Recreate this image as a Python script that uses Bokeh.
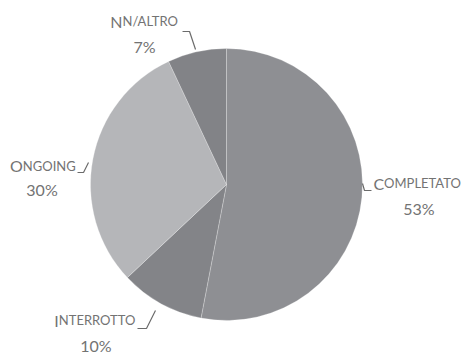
import math
from bokeh.plotting import figure
from bokeh.models import ColumnDataSource, Range1d
from bokeh.core.properties import value
from bokeh.embed import file_html
from bokeh.resources import INLINE

# ---- data ----
categories = ["Completato", "Interrotto", "Ongoing", "Nn/altro"]
percent = [53, 10, 30, 7]
first_letters = ["C", "I", "O", "N"]
rest_letters = ["OMPLETATO", "NTERROTTO", "NGOING", "N/ALTRO"]
pct_labels = ["53%", "10%", "30%", "7%"]
colors = ["#8e8f93", "#838488", "#b5b6b9", "#828387"]

# ---- layout (image pixel coordinates, y downwards) ----
W, H = 465, 354
CX, CY, R = 226, 184, 136
TEXT_COLOR = "#737373"
FONT = "Lato"
TEXT_DY = -7  # baseline correction for text rendering

# offsets relative to the pie edge point at the middle of each slice
LAYOUT = {
    "Completato": dict(leader=[(0.6, -13.8), (2.6, -6.8), (9.6, -6.8)],
                       label=(11.6, -6.8), first_w=10.6, pct=(57.1, 18.2)),
    "Interrotto": dict(leader=[(-5.5, 6.8), (-14.5, 24.8), (-23.5, 24.8)],
                       label=(-107.0, 23.8), first_w=4.8, pct=(-65.0, 48.8)),
    "Ongoing": dict(leader=[(-4.4, 3.5), (-9.4, 13.5), (-15.4, 13.5)],
                    label=(-82.4, 13.5), first_w=12.3, pct=(-50.9, 37.5)),
    "Nn/altro": dict(leader=[(-1.3, -2.3), (-7.3, -20.3), (-14.3, -20.3)],
                     label=(-86.3, -23.3), first_w=12.0, pct=(-52.3, 1.7)),
}


def Y(y):
    return H - y


p = figure(width=W, height=H, x_range=Range1d(0, W), y_range=Range1d(0, H),
           output_backend="svg", toolbar_location=None, min_border=0)
p.axis.visible = False
p.grid.visible = False
p.outline_line_color = None
p.background_fill_color = "white"
p.border_fill_color = "white"

total = sum(percent)
cum = 0.0
starts, ends, mids = [], [], []
for v in percent:
    a0 = cum / total * 2 * math.pi
    cum += v
    a1 = cum / total * 2 * math.pi
    starts.append(math.pi / 2 - a0)
    ends.append(math.pi / 2 - a1)
    mids.append((a0 + a1) / 2)

src = ColumnDataSource(dict(start=starts, end=ends, color=colors, name=categories))
p.wedge(x=CX, y=Y(CY), radius=R, start_angle="start", end_angle="end",
        direction="clock", fill_color="color", line_color="white",
        line_alpha=0.25, line_width=1, source=src)

lx, ly = [], []
fx, fy, ft = [], [], []
rx, ry, rt = [], [], []
px, py, pt = [], [], []
for i, cat in enumerate(categories):
    ex = CX + R * math.sin(mids[i])
    ey = CY - R * math.cos(mids[i])
    L = LAYOUT[cat]
    lx.append([ex + dx for dx, dy in L["leader"]])
    ly.append([Y(ey + dy) for dx, dy in L["leader"]])
    split = ex + L["label"][0] + L["first_w"]
    base = Y(ey + L["label"][1] + TEXT_DY)
    fx.append(split); fy.append(base); ft.append(first_letters[i])
    rx.append(split); ry.append(base); rt.append(rest_letters[i])
    px.append(ex + L["pct"][0]); py.append(Y(ey + L["pct"][1] + TEXT_DY)); pt.append(pct_labels[i])

p.multi_line(xs=lx, ys=ly, line_color="#6b6b6b", line_width=1.2)

p.text(x=fx, y=fy, text=ft, text_font=value(FONT), text_font_size="16px",
       text_align="right", text_baseline="alphabetic", text_color=TEXT_COLOR)
p.text(x=rx, y=ry, text=rt, text_font=value(FONT), text_font_size="13px",
       text_align="left", text_baseline="alphabetic", text_color=TEXT_COLOR)
p.text(x=px, y=py, text=pt, text_font=value(FONT), text_font_size="16px",
       text_align="center", text_baseline="alphabetic", text_color=TEXT_COLOR)

open("out.html", "w").write(file_html(p, INLINE))
